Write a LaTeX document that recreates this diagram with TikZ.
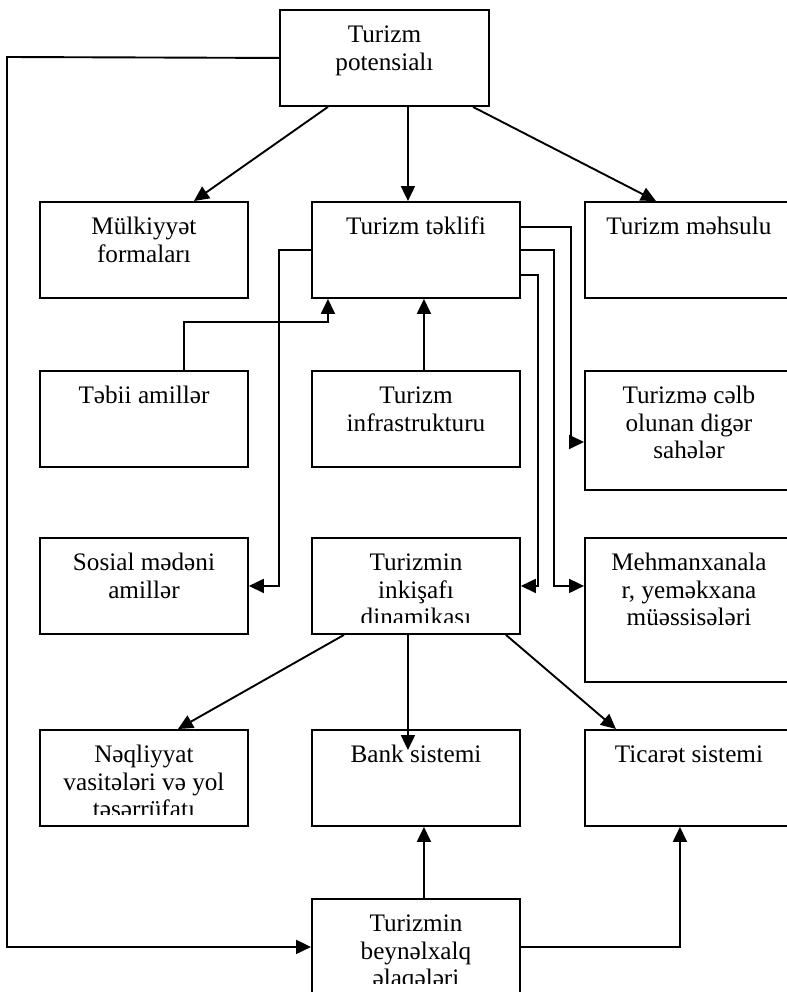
\documentclass[tikz,border=0pt]{standalone}
\usepackage{fontspec}
\setmainfont{Liberation Serif}
\usetikzlibrary{arrows.meta}
\begin{document}
\begin{tikzpicture}[x=1bp,y=-1bp,
  box/.style={draw, line width=1.9bp, rectangle, minimum width=208bp, minimum height=96bp, inner sep=0pt, anchor=north west},
  boxtext/.style={draw=none, anchor=north, inner sep=0pt, minimum width=0pt, minimum height=0pt, align=center, font=\fontsize{25.2bp}{27.7bp}\selectfont},
  txt/.style={path picture={\node[boxtext] at ([yshift=-12.2bp]path picture bounding box.north) {\strut #1};}},
  ctxt/.style={path picture={\clip ([yshift=11bp]path picture bounding box.south west) rectangle ([yshift=5bp]path picture bounding box.north east); \node[boxtext] at ([yshift=-12.2bp]path picture bounding box.north) {\strut #1};}},
  conn/.style={line width=1.9bp, -{Triangle[length=15bp,width=14bp]}},
]
\useasboundingbox[fill=white] (0,0) rectangle (787,992);

\node[box, minimum width=209bp, txt={Turizm\\potensialı}] (pot) at (279,9) {};
\node[box, txt={Mülkiyyət\\formaları}] (mulk) at (39,201) {};
\node[box, txt={Turizm təklifi}] (tek) at (311,201) {};
\node[box, txt={Turizm məhsulu}] (mah) at (584,201) {};
\node[box, txt={Təbii amillər}] (teb) at (39,370) {};
\node[box, txt={Turizm\\infrastrukturu}] (infr) at (311,370) {};
\node[box, minimum height=119bp, txt={Turizmə cəlb\\olunan digər\\sahələr}] (celb) at (584,370) {};
\node[box, txt={Sosial mədəni\\amillər}] (sos) at (39,537) {};
\node[box, ctxt={Turizmin\\inkişafı\\dinamikası}] (ink) at (311,537) {};
\node[box, minimum height=144bp, txt={Mehmanxanala\\r, yeməkxana\\müəssisələri}] (mehm) at (584,537) {};
\node[box, ctxt={Nəqliyyat\\vasitələri və yol\\təsərrüfatı}] (naq) at (39,729) {};
\node[box, txt={Bank sistemi}] (bank) at (311,729) {};
\node[box, txt={Ticarət sistemi}] (tic) at (584,729) {};
\node[box, ctxt={Turizmin\\beynəlxalq\\əlaqələri}] (beyn) at (311,898) {};

\coordinate (lft) at (7,57);
% from potential
\draw[conn] (pot.west) -- (lft) |- (beyn.west);
\draw[conn] ([xshift=-56.5bp]pot.south) -- ([xshift=50bp]mulk.north);
\draw[conn] ([xshift=-8bp]tek.north |- pot.south) -- ([xshift=-8bp]tek.north);
\draw[conn] ([xshift=88.5bp]pot.south) -- ([xshift=-33bp]mah.north);
% into Turizm teklifi
\draw[conn] ([xshift=40bp]teb.north) -- ++(0,-48) -| ([xshift=-88bp]tek.south);
\draw[conn] ([xshift=8bp]infr.north) -- ([xshift=8bp]tek.south);
% out of Turizm teklifi
\draw[conn] (tek.west) -- ++(-32,0) |- (sos.east);
\draw[conn] ([yshift=-26bp]tek.north east) -- ++(50,0) |- (celb.west |- 0,442);
\draw[conn] (tek.east) -- ++(33,0) |- (mehm.west |- ink.east);
\draw[conn] ([yshift=-25bp]tek.east) -- ++(17,0) |- (ink.east);
% from inkisafi
\draw[conn] ([xshift=-72bp]ink.south) -- ([xshift=34bp]naq.north);
\draw[conn] ([xshift=-8bp]ink.south) -- ([xshift=-8bp,yshift=-21bp]bank.north);
\draw[conn] ([xshift=90bp]ink.south) -- ([xshift=-73bp]tic.north);
% from beynelxalq
\draw[conn] ([xshift=8bp]beyn.north) -- ([xshift=8bp]bank.south);
\draw[conn] (beyn.east) -| ([xshift=-9bp]tic.south);
\end{tikzpicture}
\end{document}
